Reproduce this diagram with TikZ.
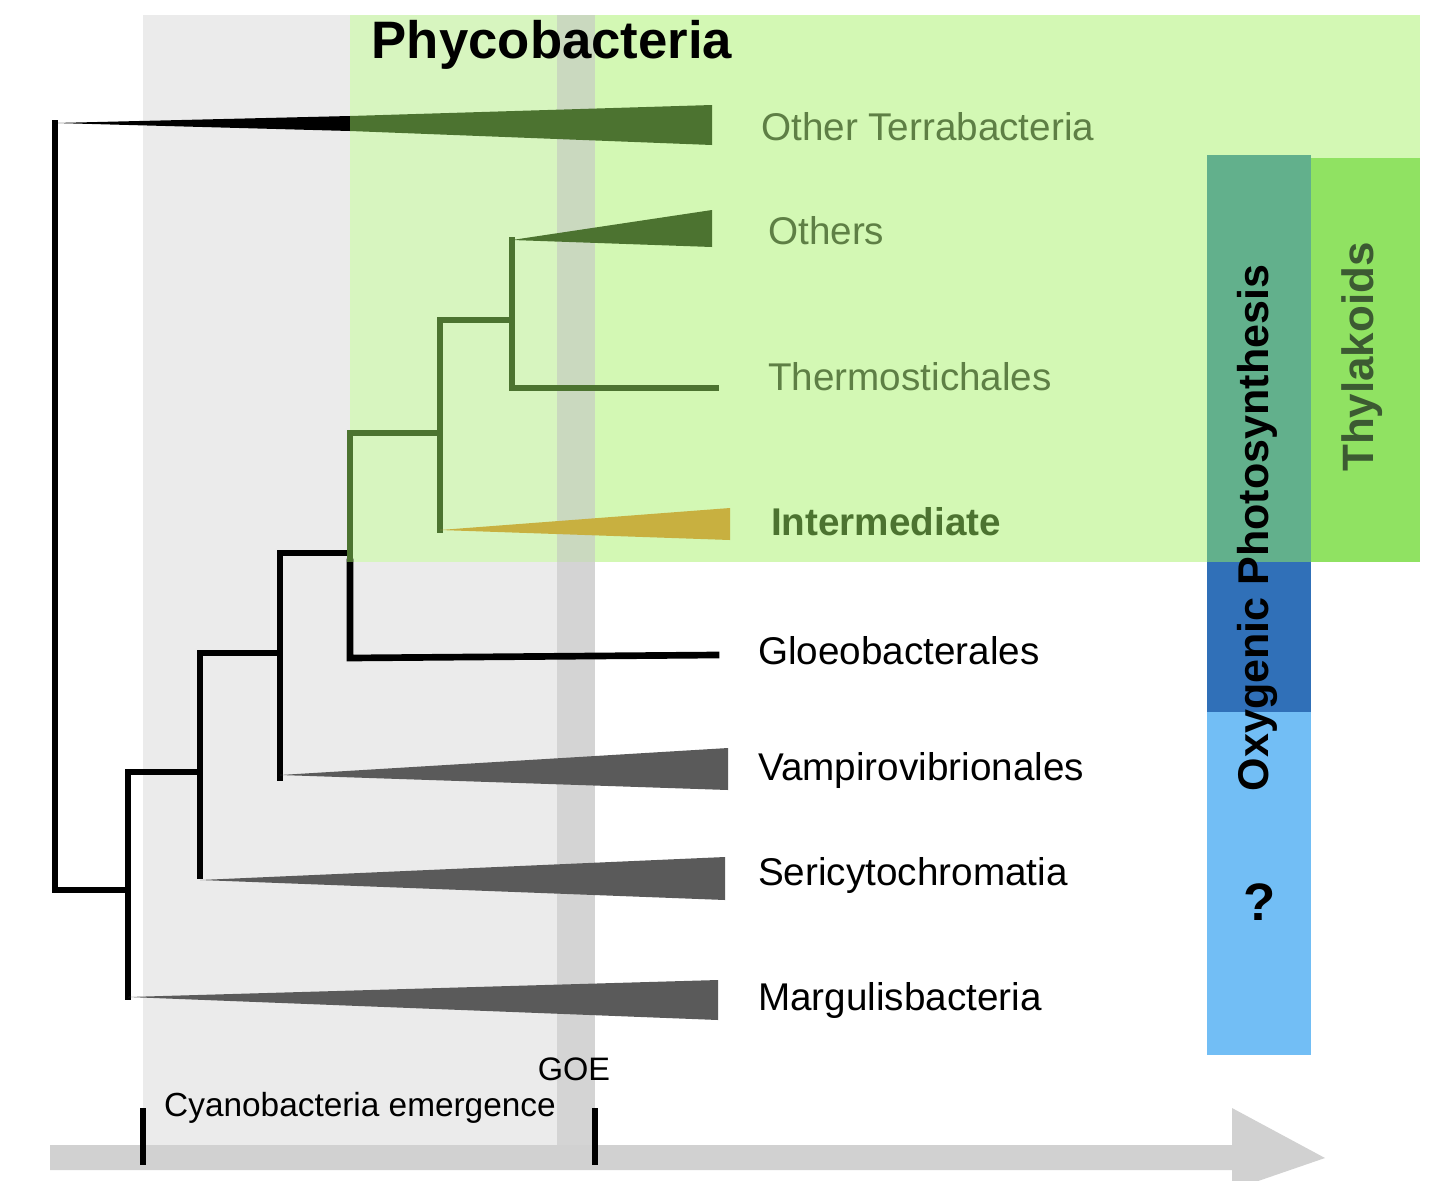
\documentclass[tikz,border=0pt]{standalone}
\usepackage{fontspec}
\setmainfont{Liberation Sans}
\begin{document}
\begin{tikzpicture}[x=0.02cm,y=-0.02cm,
  br/.style={line width=3.8pt,line cap=rect},
  blk/.style={br,black},
  grn/.style={br,color=dkg},
  lab/.style={anchor=west,font=\fontsize{22}{25}\selectfont},
  glab/.style={lab,text=lg}]
\definecolor{dkg}{HTML}{4C7330}
\definecolor{lg}{HTML}{5E7F45}
\definecolor{ltg}{HTML}{D3F8B4}
\definecolor{tri}{HTML}{5A5A5A}
\definecolor{gold}{HTML}{C8B040}
\useasboundingbox (0,0) rectangle (1450,1180);
% backgrounds
\fill[fill=black!8] (143,15) rectangle (595,1145);
\fill[ltg,opacity=0.8] (350,15) rectangle (1420,562);
\fill[ltg] (595,15) rectangle (1420,562);
\fill[black!25,opacity=0.5] (557,15) rectangle (595,1145);
% bars
\fill[fill={rgb,255:red,98;green,176;blue,140}] (1207,155) rectangle (1311,562);
\fill[fill={rgb,255:red,48;green,112;blue,184}] (1207,562) rectangle (1311,712);
\fill[fill={rgb,255:red,114;green,190;blue,245}] (1207,712) rectangle (1311,1055);
\fill[fill={rgb,255:red,144;green,226;blue,98}] (1311,158) rectangle (1420,562);
\node[rotate=90,font=\bfseries\fontsize{24.5}{27}\selectfont] (op) at (1257,528) {Oxygenic Photosynthesis};
\node[rotate=90,font=\bfseries\fontsize{25}{27}\selectfont,text={rgb,255:red,60;green,90;blue,50}] (thy) at (1362,357) {Thylakoids};
\node[font=\bfseries\fontsize{30}{32}\selectfont] (q) at (1260,902) {?};
\node[font=\bfseries\fontsize{30}{32}\selectfont] (phy) at (552,45) {Phycobacteria};
% tree
\fill[black] (55,123) -- (350,116) -- (350,131) -- cycle;
\fill[dkg] (350,116) -- (712,105) -- (712,145) -- (350,131) -- cycle;
\draw[blk] (55,123) -- (55,890) -- (128,890);
\draw[blk] (128,772) -- (128,997);
\fill[tri] (128,997) -- (718,980) -- (718,1020) -- cycle;
\draw[blk] (128,772) -- (200,772);
\draw[blk] (200,653) -- (200,876);
\fill[tri] (200,880) -- (725,857) -- (725,900) -- cycle;
\draw[blk] (200,653) -- (280,653);
\draw[blk] (280,553) -- (280,778);
\fill[tri] (280,775) -- (728,748) -- (728,790) -- cycle;
\draw[blk] (280,553) -- (350,553);
\draw[blk] (350,562) -- (350,658) -- (716,655);
\draw[grn,line cap=butt] (350,430) -- (350,562);
\draw[grn] (350,433) -- (440,433);
\draw[grn] (440,320) -- (440,530);
\fill[gold] (440,530) -- (730,508) -- (730,540) -- cycle;
\draw[grn] (440,320) -- (512,320);
\draw[grn] (512,240) -- (512,388) -- (716,388);
\fill[dkg] (512,240) -- (712,210) -- (712,247) -- cycle;
% labels
\node[glab] (t1) at (755,127) {Other Terrabacteria};
\node[glab] (t2) at (762,231) {Others};
\node[glab] (t3) at (762,377) {Thermostichales};
\node[lab,text=dkg,font=\bfseries\fontsize{22}{25}\selectfont] (t4) at (765,522) {Intermediate};
\node[lab] (t5) at (752,651) {Gloeobacterales};
\node[lab] (t6) at (752,770) {Vampirovibrionales};
\node[lab] (t7) at (752,875) {Sericytochromatia};
\node[lab] (t8) at (752,1000) {Margulisbacteria};
% axis
\fill[black!18] (50,1145) -- (1232,1145) -- (1232,1108) -- (1325,1158) -- (1232,1190) -- (1232,1170) -- (50,1170) -- cycle;
\draw[blk,line cap=butt] (143,1108) -- (143,1165);
\draw[blk,line cap=butt] (595,1108) -- (595,1165);
\node[font=\fontsize{19}{21}\selectfont] (ce) at (360,1108) {Cyanobacteria emergence};
\node[font=\fontsize{18.5}{21}\selectfont] (goe) at (574,1069) {GOE};
\end{tikzpicture}
\end{document}
